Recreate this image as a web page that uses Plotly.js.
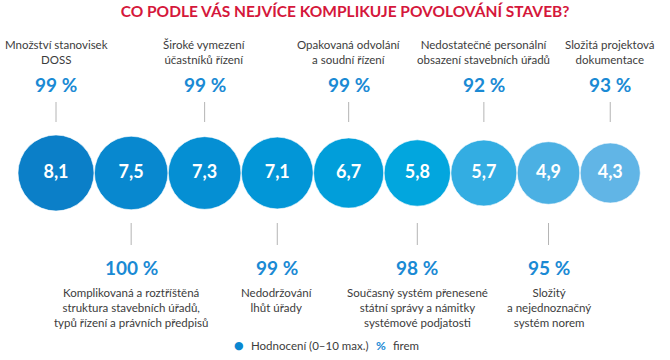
<!DOCTYPE html>
<html><head><meta charset="utf-8">
<script src="https://cdn.plot.ly/plotly-3.0.1.min.js"></script>
<style>html,body{margin:0;padding:0;background:#fff}#chart{width:670px;height:360px}</style>
</head><body><div id="chart"></div>
<script>
const scores = [8.1, 7.5, 7.3, 7.1, 6.7, 5.8, 5.7, 4.9, 4.3];
const percents = [99, 100, 99, 99, 99, 98, 92, 95, 93];
const labels = [
  "Množství stanovisek<br>DOSS",
  "Komplikovaná a roztříštěná<br>struktura stavebních úřadů,<br>typů řízení a právních předpisů",
  "Široké vymezení<br>účastníků řízení",
  "Nedodržování<br>lhůt úřady",
  "Opakovaná odvolání<br>a soudní řízení",
  "Současný systém přenesené<br>státní správy a námitky<br>systémové podjatosti",
  "Nedostatečné personální<br>obsazení stavebních úřadů",
  "Složitý<br>a nejednoznačný<br>systém norem",
  "Složitá projektová<br>dokumentace"
];
const titleText = "CO PODLE VÁS NEJVÍCE KOMPLIKUJE POVOLOVÁNÍ STAVEB?";
const legendScore = "Hodnocení (0–10 max.)";
const legendPct = "firem";

// styling
const colors = ["#0b7fc8","#0888cf","#058fd3","#0296d7","#019eda","#02a6de","#33ade2","#4bb0e3","#61b5e6"];
const FONT = "Lato, 'Open Sans', sans-serif";
const textGray = "#3c3c3c";
const pctBlue = "#1a8ad4";
const diam = scores.map(v => 42 + 4.2 * v);
const xs = [];
diam.forEach((d, i) => {
  if (i === 0) xs.push(56);
  else xs.push(xs[i-1] + diam[i-1]/2 + d/2 + 0.4);
});
const cy = 173;

const annotations = [];
const shapes = [];
scores.forEach((v, i) => {
  const top = i % 2 === 0;
  const x = xs[i];
  annotations.push({x: x, y: top ? 84 : 267, xref: 'x', yref: 'y', text: '<b>' + percents[i] + ' %</b>',
    showarrow: false, xanchor: 'center', yanchor: 'middle', font: {family: FONT, size: 19, color: pctBlue}});
  annotations.push({x: x, y: top ? 51.5 : 284, xref: 'x', yref: 'y', text: labels[i], showarrow: false,
    xanchor: 'center', yanchor: top ? 'middle' : 'top', align: 'center',
    font: {family: FONT, size: 11.5, color: textGray}});
  shapes.push({type: 'line', xref: 'x', yref: 'y', x0: x, x1: x,
    y0: top ? 102 : 223, y1: top ? 122 : 245, line: {color: '#b4b4b4', width: 1}});
});

annotations.push({x: 239, y: 345, xref: 'x', yref: 'y', text: '●', showarrow: false,
  xanchor: 'center', yanchor: 'middle', font: {family: "DejaVu Sans", size: 11, color: '#0a87d0'}});
annotations.push({x: 249, y: 345, xref: 'x', yref: 'y', text: legendScore, showarrow: false,
  xanchor: 'left', yanchor: 'middle', font: {family: FONT, size: 11.5, color: textGray}});
annotations.push({x: 374, y: 345, xref: 'x', yref: 'y', text: '<b>%</b>', showarrow: false,
  xanchor: 'left', yanchor: 'middle', font: {family: FONT, size: 12, color: pctBlue}});
annotations.push({x: 391, y: 345, xref: 'x', yref: 'y', text: legendPct, showarrow: false,
  xanchor: 'left', yanchor: 'middle', font: {family: FONT, size: 11.5, color: textGray}});

const trace = {
  type: 'scatter', mode: 'markers+text',
  x: xs, y: scores.map(() => cy),
  text: scores.map(v => '<b>' + v.toFixed(1).replace('.', ',') + '</b>'),
  textposition: 'middle center',
  textfont: {family: FONT, size: 18, color: '#ffffff'},
  marker: {size: diam, color: colors, line: {color: 'rgba(255,255,255,0.6)', width: 1}, opacity: 1},
  hoverinfo: 'skip', showlegend: false, cliponaxis: false
};

const layout = {
  width: 670, height: 360,
  margin: {l: 0, r: 0, t: 0, b: 0},
  paper_bgcolor: '#fff', plot_bgcolor: '#fff',
  title: {text: '<b>' + titleText + '</b>', x: 0.515, xanchor: 'center', y: 1 - 12/360, yanchor: 'middle',
    font: {family: FONT, size: 15.5, color: '#d5173b'}},
  xaxis: {range: [0, 670], visible: false, fixedrange: true},
  yaxis: {range: [360, 0], visible: false, fixedrange: true},
  annotations: annotations, shapes: shapes, showlegend: false
};
Plotly.newPlot('chart', [trace], layout, {displayModeBar: false, staticPlot: true});
</script></body></html>
